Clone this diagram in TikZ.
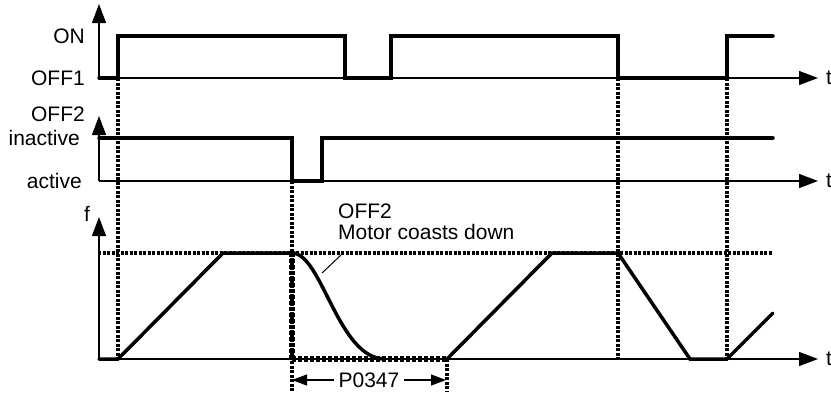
\documentclass[tikz,border=0pt]{standalone}
\usepackage{fontspec}
\setmainfont{Liberation Sans}
\usetikzlibrary{arrows.meta}
\begin{document}
\begin{tikzpicture}[x=1pt,y=-1pt,
  axis/.style={line width=1.3pt,-{Triangle[length=19pt,width=14pt]}},
  sig/.style={line width=3.5pt,line join=miter,line cap=round},
  beads/.style={line width=3.5pt,line cap=butt,dash pattern=on 3pt off 1.5pt},
  fatbeads/.style={line width=5.5pt,line cap=butt,dash pattern=on 4pt off 2pt},
  lbl/.style={font=\fontsize{21}{25}\selectfont,inner sep=0pt},
  dimarr/.style={line width=1.3pt,-{Triangle[length=15pt,width=11pt]}}]
\useasboundingbox (0,0) rectangle (831,392);
% coordinates
\coordinate (o1) at (99,78);
\coordinate (o2) at (99,181);
\coordinate (o3) at (99,359);
% axes
\draw[axis] (o1) -- (99,4);
\draw[axis] (o1) -- (818,78);
\draw[axis] (o2) -- (99,116);
\draw[axis] (o2) -- (818,181);
\draw[axis] (o3) -- (99,217);
\draw[axis] (o3) -- (818,359);
% labels
\node[lbl,anchor=east] (on) at (85,36) {ON};
\node[lbl,anchor=east] (off1) at (85,78) {OFF1};
\node[lbl,anchor=east] (off2) at (85,114) {OFF2};
\node[lbl,anchor=east] (inact) at (80,138) {inactive};
\node[lbl,anchor=east] (act) at (82,181) {active};
\node[lbl] (f) at (87,214) {f};
\node[lbl,anchor=west] (t1) at (826,78) {t};
\node[lbl,anchor=west] (t2) at (826,181) {t};
\node[lbl,anchor=west] (t3) at (826,359) {t};
% dotted guides
\draw[beads] (98,253) -- (773,253);
\draw[beads] (118,78) -- (118,359);
\draw[beads] (292,181) -- (292,392);
\draw[fatbeads] (292,253) -- (292,359);
\draw[beads] (618,78) -- (618,359);
\draw[beads] (727,78) -- (727,359);
\draw[beads] (447,359) -- (447,392);
% signal 1
\draw[sig] (99,78) -- (118,78) -- (118,36) -- (345,36) -- (345,78) -- (391,78) -- (391,36)
  -- (618,36) -- (618,78) -- (727,78) -- (727,36) -- (773,36);
% signal 2
\draw[sig] (99,138) -- (292,138) -- (292,181) -- (322,181) -- (322,138) -- (773,138);
% frequency
\draw[sig] (99,359) -- (118,359) -- (223,253) -- (292,253)
  .. controls (322,253) and (338,359) .. (385,359);
\draw[fatbeads] (292,359) -- (447,359);
\draw[sig] (447,359) -- (552,253) -- (618,253) -- (690,359) -- (727,359) -- (773,313);
% annotation
\node[lbl,anchor=west] (a1) at (338,211) {OFF2};
\node[lbl,anchor=west] (a2) at (338,232) {Motor coasts down};
\draw[line width=1pt] (341,255) -- (322,273);
% P0347
\node[lbl] (p) at (369,380) {P0347};
\draw[dimarr] (p.west) ++(-4,0) -- (292,380);
\draw[dimarr] (p.east) ++(4,0) -- (446,380);
\end{tikzpicture}
\end{document}
